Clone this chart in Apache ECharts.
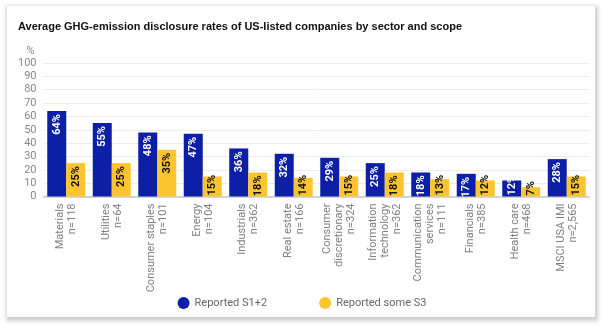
<!DOCTYPE html>
<html><head><meta charset="utf-8">
<script src="https://cdn.jsdelivr.net/npm/echarts@6/dist/echarts.min.js"></script>
<style>
html,body{margin:0;padding:0;background:#fff;width:604px;height:325px;overflow:hidden}
#card{position:absolute;left:7px;top:6px;width:588px;height:311px;background:#fff;box-shadow:1px 2px 4px 2px rgba(0,0,0,0.2)}
#c{position:absolute;left:0;top:0;width:604px;height:325px}
</style></head><body>
<div id="card"></div>
<div id="c"></div>
<script>
const categories = ['Materials\nn=118','Utilities\nn=64','Consumer staples\nn=101','Energy\nn=104','Industrials\nn=362','Real estate\nn=166','Consumer\ndiscretionary\nn=324','Information\ntechnology\nn=362','Communication\nservices\nn=111','Financials\nn=385','Health care\nn=468','MSCI USA IMI\nn=2,565'];
const reportedS12 = [64,55,48,47,36,32,29,25,18,17,12,28];
const reportedS3 = [25,25,35,15,18,14,15,18,13,12,7,15];
const seriesNames = ['Reported S1+2','Reported some S3'];
const yTicks = [0,10,20,30,40,50,60,70,80,90,100];

const chart = echarts.init(document.getElementById('c'), null, {renderer:'canvas'});
function items(arr, color){
  return arr.map(function(v){
    const small = v < 16;
    return {value:v, label:{show:true, rotate:90, verticalAlign:'middle',
      position: small ? 'insideBottom' : 'insideTop',
      align: small ? 'left' : 'right',
      distance: small ? 1 : 3,
      formatter:'{c}%', color:color, fontWeight:'bold', fontSize:11, fontFamily:'Roboto, Arial'}};
  });
}
chart.setOption({
  animation:false,
  title:{text:'Average GHG-emission disclosure rates of US-listed companies by sector and scope',
    left:13, top:16, textStyle:{fontFamily:'Liberation Sans, Arial', fontWeight:'bold', fontSize:11, color:'#111'}},
  grid:{left:43.5, right:14.5, top:63, bottom:128.5},
  legend:{bottom:11, left:'center', itemGap:52, icon:'circle', itemWidth:12, itemHeight:12,
    textStyle:{color:'#666', fontSize:11, fontFamily:'Roboto, Arial'}, data:seriesNames},
  xAxis:{type:'category', data:categories,
    axisLine:{lineStyle:{color:'#c8c8c8', width:1.5}}, axisTick:{show:false},
    axisLabel:{rotate:90, interval:0, color:'#808080', fontSize:11, lineHeight:12, fontFamily:'Roboto, Arial', margin:7, align:'right'}},
  yAxis:{type:'value', min:0, max:100, interval:10, name:'%', nameLocation:'end', nameGap:6,
    nameTextStyle:{color:'#888', fontSize:11, fontFamily:'Roboto, Arial', align:'right', padding:[0,9,0,0]},
    axisLabel:{color:'#888', fontSize:11, fontFamily:'Roboto, Arial', margin:7,
      formatter:function(v){return yTicks.indexOf(v)>=0 ? String(v) : '';}},
    splitLine:{lineStyle:{color:'#ececec'}}, axisLine:{show:false}, axisTick:{show:false}},
  series:[
    {name:seriesNames[0], type:'bar', data:items(reportedS12,'#fff'), barWidth:19, barGap:'0%', itemStyle:{color:'#0c1fa6'}},
    {name:seriesNames[1], type:'bar', data:items(reportedS3,'#111'), barWidth:19, barGap:'0%', itemStyle:{color:'#fcc42e'}}
  ]
});
</script>
</body></html>
